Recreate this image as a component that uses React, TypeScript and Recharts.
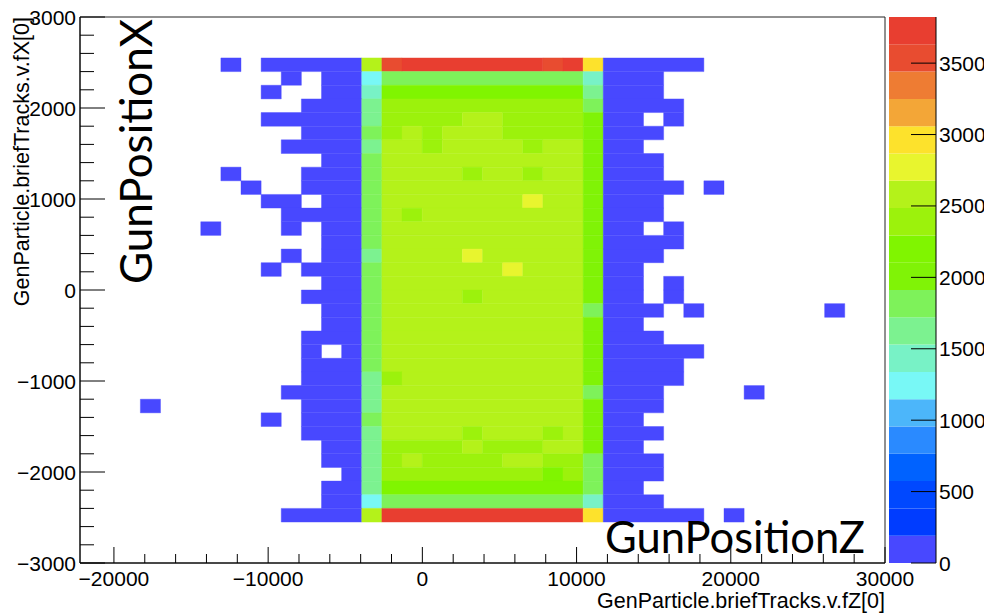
import React from "react";
import {
  ScatterChart,
  Scatter,
  XAxis,
  YAxis,
  ReferenceArea,
  BarChart,
  Bar,
} from "recharts";

// histogram binning (TTree::Draw default 40 x 40)
const xRange = [-22200, 30000];
const yRange = [-3000, 3000];
const nBinsX = 40;
const nBinsY = 40;
const topFilledRow = 36;

// one character per bin, top row (y bin 36) first, bins 0..39 left to right.
// '.' = empty, otherwise the colour level 0-9, a-j (see palette)
const binRows = [
  ".......0.00000" + "dijjjjjjjijf" + "00000.........",
  "..........0.00" + "699999999997" + "000...........",
  ".........0..00" + "7bbbbbbbbbb8" + "000...........",
  "...........000" + "8cccccccccc9" + "0000..........",
  ".........00000" + "8ccccddcccca" + "00.0..........",
  "...........000" + "9cdcdddcccca" + "000...........",
  "..........0000" + "8ddcddddcdda" + "00............",
  "............00" + "9dddddddddda" + "000...........",
  ".......0...000" + "9ddddcddcdda" + "000...........",
  "........0..000" + "9dddddddddda" + "0000.0........",
  ".........00.00" + "9dddddddedda" + "000...........",
  "..........0000" + "9dcdddddddda" + "000...........",
  "......0...0.00" + "9dddddddddda" + "00.0..........",
  "............00" + "9dddddddddda" + "0000..........",
  "..........0.00" + "8ddddeddddda" + "000...........",
  ".........0.000" + "9ddddddeddda" + "00............",
  "............00" + "9dddddddddda" + "00.0..........",
  "...........000" + "9ddddcddddda" + "00.0..........",
  "............00" + "9dddddddddd9" + "000.0......0..",
  "............00" + "9dddddddddda" + "00............",
  "...........000" + "9dddddddddda" + "000...........",
  "...........0.0" + "9dddddddddda" + "00000.........",
  "...........000" + "9dddddddddda" + "0000..........",
  "...........000" + "8cddddddddda" + "0000..........",
  "..........0000" + "8dddddddddd9" + "000....0......",
  "...0.......000" + "8dddddddddda" + "000...........",
  ".........0.000" + "9dddddddddda" + "00............",
  "...........000" + "8ddddcdddcda" + "000...........",
  "............00" + "8ccccdcccdda" + "00............",
  "............00" + "8cdccccddcc9" + "000...........",
  ".............0" + "8ccccccccbc9" + "000...........",
  "............00" + "8bbbbbbbbbb9" + "00............",
  "............00" + "699999999997" + "000...........",
  "..........0000" + "djjjjjjjjjjf" + "00000.0.......",
];

// ROOT colour palette, 20 contour levels
const palette = [
  "#4848ff", "#003cff", "#0048ff", "#0062ff", "#2a8aff",
  "#4cb6fa", "#78f8f6", "#78f2c6", "#7cf290", "#7ef25a",
  "#80f306", "#80f500", "#9cf20c", "#b4f21a", "#e8f52e",
  "#fde22c", "#f3a637", "#ee7c33", "#e84c30", "#e83e30",
];
const zMax = 3823;

const xMajorTicks = [-20000, -10000, 0, 10000, 20000, 30000];
const yMajorTicks = [-3000, -2000, -1000, 0, 1000, 2000, 3000];
const zTicks = [0, 500, 1000, 1500, 2000, 2500, 3000, 3500];

const xTitle = "GenParticle.briefTracks.v.fZ[0]";
const yTitle = "GenParticle.briefTracks.v.fX[0]";

const rootFont = "'Liberation Sans', Arial, Helvetica, sans-serif";
const noteFont = "Lato, 'Open Sans', sans-serif";

const binW = (xRange[1] - xRange[0]) / nBinsX;
const binH = (yRange[1] - yRange[0]) / nBinsY;
const levelOf = (c: string) => parseInt(c, 36);

// minor ticks every 2000 / 200
const xTicks: number[] = [];
for (let v = -20000; v <= 30000; v += 2000) xTicks.push(v);
const yTicks: number[] = [];
for (let v = -3000; v <= 3000; v += 200) yTicks.push(v);

// merge horizontal runs of equal level into one area
type Cell = { x1: number; x2: number; y1: number; y2: number; level: number };
const cells: Cell[] = [];
binRows.forEach((row, k) => {
  const j = topFilledRow - k;
  let i = 0;
  while (i < row.length) {
    const c = row[i];
    let e = i + 1;
    while (e < row.length && row[e] === c) e++;
    if (c !== ".") {
      cells.push({
        x1: xRange[0] + i * binW,
        x2: xRange[0] + e * binW,
        y1: yRange[0] + j * binH,
        y2: yRange[0] + (j + 1) * binH,
        level: levelOf(c),
      });
    }
    i = e;
  }
});

const corners = [
  { x: xRange[0], y: yRange[0] },
  { x: xRange[1], y: yRange[1] },
];

const colorBarRow = [
  palette.reduce(
    (acc, _c, i) => ({ ...acc, [`l${i}`]: zMax / palette.length }),
    { name: "z" } as Record<string, number | string>
  ),
];

const fmt = (v: number) => (v < 0 ? "\u2212" + Math.abs(v) : String(v));

const XTick = (props: any) => {
  const { x, y, payload } = props;
  const major = xMajorTicks.includes(payload.value);
  return (
    <g>
      <line x1={x} x2={x} y1={y} y2={y - (major ? 16 : 9)} stroke="#000" />
      {major && (
        <text x={x} y={y + 23} textAnchor="middle" fontSize={21} fontFamily={rootFont} fill="#000">
          {fmt(payload.value)}
        </text>
      )}
    </g>
  );
};

const YTick = (props: any) => {
  const { x, y, payload } = props;
  const major = yMajorTicks.includes(payload.value);
  return (
    <g>
      <line x1={x} x2={x + (major ? 25 : 14)} y1={y} y2={y} stroke="#000" />
      {major && (
        <text x={x - 4} y={y + 7.5} textAnchor="end" fontSize={21} fontFamily={rootFont} fill="#000">
          {fmt(payload.value)}
        </text>
      )}
    </g>
  );
};

const ZTick = (props: any) => {
  const { x, y, payload } = props;
  return (
    <g>
      <line x1={x - 25} x2={x} y1={y} y2={y} stroke="#000" />
      <text x={x + 3} y={y + 7.5} textAnchor="start" fontSize={21} fontFamily={rootFont} fill="#000">
        {payload.value}
      </text>
    </g>
  );
};

const XTitle = () => (
  <g>
    <text x={885} y={608} textAnchor="end" fontSize={21.5} fontFamily={rootFont} fill="#000">
      {xTitle}
    </text>
    <text x={865} y={553} textAnchor="end" fontSize={43.5} fontFamily={noteFont} fill="#000">
      GunPositionZ
    </text>
  </g>
);

const YTitle = () => (
  <g>
    <text transform="translate(29,17) rotate(-90)" textAnchor="end" fontSize={21.5} fontFamily={rootFont} fill="#000">
      {yTitle}
    </text>
    <text transform="translate(152,19) rotate(-90)" textAnchor="end" fontSize={44} fontFamily={noteFont} fill="#000">
      GunPositionX
    </text>
  </g>
);

export default function App() {
  return (
    <div style={{ position: "absolute", left: 0, top: 0, width: 984, height: 613, background: "#fff" }}>
      <div style={{ position: "absolute", left: 0, top: 0 }}>
        <ScatterChart width={984} height={613} margin={{ top: 17, right: 99, bottom: 0, left: 0 }}>
          <XAxis
            type="number"
            dataKey="x"
            domain={xRange}
            allowDataOverflow
            ticks={xTicks}
            interval={0}
            height={50}
            tickSize={0}
            tickMargin={0}
            tickLine={false}
            axisLine={{ stroke: "#000" }}
            tick={XTick}
            label={<XTitle />}
          />
          <YAxis
            type="number"
            dataKey="y"
            domain={yRange}
            allowDataOverflow
            ticks={yTicks}
            interval={0}
            width={80}
            tickSize={0}
            tickMargin={0}
            tickLine={false}
            axisLine={{ stroke: "#000" }}
            tick={YTick}
            label={<YTitle />}
          />
          {cells.map((c, n) => (
            <ReferenceArea
              key={n}
              x1={c.x1}
              x2={c.x2}
              y1={c.y1}
              y2={c.y2}
              fill={palette[c.level]}
              fillOpacity={1}
              stroke={palette[c.level]}
              strokeWidth={0.4}
            />
          ))}
          <ReferenceArea
            x1={xRange[0]}
            x2={xRange[1]}
            y1={yRange[0]}
            y2={yRange[1]}
            fill="none"
            stroke="#222"
            strokeWidth={1}
          />
          <Scatter data={corners} shape={() => <g />} isAnimationActive={false} />
        </ScatterChart>
      </div>
      <div style={{ position: "absolute", left: 889, top: 0 }}>
        <BarChart
          width={95}
          height={613}
          data={colorBarRow}
          margin={{ top: 17, right: 0, bottom: 50, left: 0 }}
          barCategoryGap={0}
        >
          <XAxis dataKey="name" hide />
          <YAxis
            type="number"
            orientation="right"
            width={48}
            domain={[0, zMax]}
            allowDataOverflow
            ticks={zTicks}
            interval={0}
            tickSize={0}
            tickMargin={0}
            tickLine={false}
            axisLine={{ stroke: "#000" }}
            tick={ZTick}
          />
          {palette.map((c, i) => (
            <Bar key={i} dataKey={`l${i}`} stackId="z" fill={c} isAnimationActive={false} />
          ))}
        </BarChart>
      </div>
    </div>
  );
}
